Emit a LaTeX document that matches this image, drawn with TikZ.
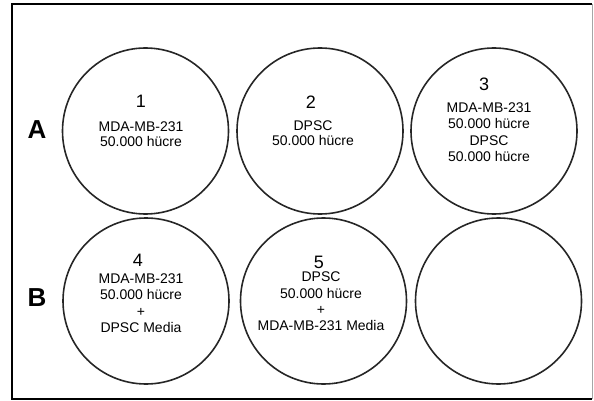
\documentclass[tikz,border=0pt]{standalone}
\usepackage{fontspec}
\setmainfont{Liberation Sans}
\tikzset{
  well/.style={circle, draw=black!85, line width=1.6pt, minimum size=166pt, inner sep=0pt},
  wellnum/.style={font=\fontsize{18}{18}\selectfont, inner sep=0pt, anchor=base},
  welltext/.style={align=center, font=\fontsize{14}{16.3}\selectfont, inner sep=0pt, anchor=north},
  rowlabel/.style={font=\fontsize{26}{26}\selectfont\bfseries, inner sep=0pt}
}
\begin{document}
\begin{tikzpicture}[x=1pt, y=-1pt]
    \useasboundingbox (0,0) rectangle (594,401);
    % Frame
    \draw[line width=2.4pt] (592,4) -- (12,4) -- (12,399) -- (592,399);
    \draw[black!35, line width=0.8pt] (592,4) -- (592,399);

    % Row labels
    \node[rowlabel] (rowA) at (37,130) {A};
    \node[rowlabel] (rowB) at (37,298) {B};

    % Wells
    \node[well] (w1) at (145.5,131) {};
    \node[well] (w2) at (320,131) {};
    \node[well] (w3) at (494,131) {};
    \node[well] (w4) at (146,301) {};
    \node[well] (w5) at (323.5,301) {};
    \node[well] (w6) at (498.5,301) {};

    % Numbers
    \node[wellnum] (n1) at (141,108) {1};
    \node[wellnum] (n2) at (311,109) {2};
    \node[wellnum] (n3) at (484,91) {3};
    \node[wellnum] (n4) at (138,266) {4};
    \node[wellnum] (n5) at (319,268) {5};

    % Contents
    \node[welltext] (t1) at (141,121.5) {MDA-MB-231\\[-1.5pt]50.000 hücre};
    \node[welltext] (t2) at (313,120.5) {DPSC\\[-1.3pt]50.000 hücre};
    \node[welltext] (t3) at (489,102.5) {MDA-MB-231\\50.000 hücre\\DPSC\\50.000 hücre};
    \node[welltext] (t4) at (141,273.5) {MDA-MB-231\\50.000 hücre\\+\\DPSC Media};
    \node[welltext] (t5) at (321,272) {DPSC\\50.000 hücre\\+\\MDA-MB-231 Media};
\end{tikzpicture}
\end{document}
